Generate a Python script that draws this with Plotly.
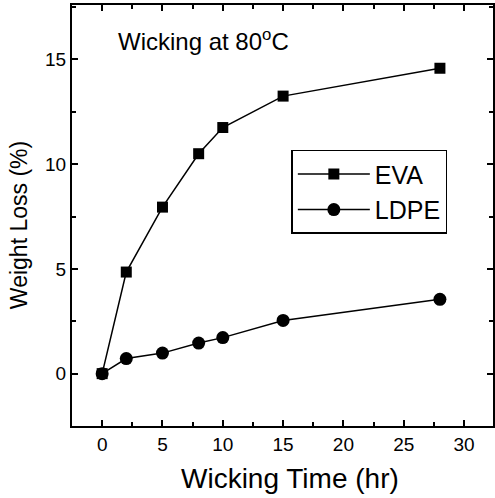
import plotly.graph_objects as go

time_hr = [0, 2, 5, 8, 10, 15, 28]
eva_loss = [0, 4.85, 7.95, 10.5, 11.75, 13.25, 14.58]
ldpe_loss = [0, 0.72, 0.98, 1.46, 1.72, 2.54, 3.55]

x_ticks = [0, 5, 10, 15, 20, 25, 30]
y_ticks = [0, 5, 10, 15]

FONT = "Liberation Sans, Arial, sans-serif"

fig = go.Figure()
fig.add_trace(go.Scatter(
    x=time_hr, y=eva_loss, name="EVA", mode="lines+markers",
    line=dict(color="black", width=1.5),
    marker=dict(symbol="square", size=11, color="black"),
))
fig.add_trace(go.Scatter(
    x=time_hr, y=ldpe_loss, name="LDPE", mode="lines+markers",
    line=dict(color="black", width=1.5),
    marker=dict(symbol="circle", size=13, color="black"),
))

axis_common = dict(
    showline=True, linecolor="black", linewidth=2, mirror="allticks",
    ticks="inside", ticklen=6, tickwidth=1.5, tickcolor="black",
    showgrid=False, zeroline=False, automargin=False,
    tickfont=dict(family=FONT, size=19, color="black"),
)

fig.update_xaxes(
    range=[-2.5, 32.4], tickvals=x_ticks,
    minor=dict(ticks="inside", ticklen=4, tickcolor="black", dtick=2.5, tick0=0),
    **axis_common,
)
fig.update_yaxes(
    range=[-2.5, 17.6], tickvals=y_ticks,
    minor=dict(ticks="inside", ticklen=4, tickcolor="black", dtick=2.5, tick0=0),
    **axis_common,
)

# axis titles placed as annotations for exact positioning
fig.add_annotation(
    text="Wicking Time (hr)", xref="paper", yref="paper",
    x=0.519, y=-0.124, xanchor="center", yanchor="middle", showarrow=False,
    font=dict(family=FONT, size=28, color="black"),
)
fig.add_annotation(
    text="Weight Loss (%)", xref="paper", yref="paper", textangle=-90,
    x=-0.1256, y=0.4774, xanchor="center", yanchor="middle", showarrow=False,
    font=dict(family=FONT, size=23, color="black"),
)

fig.add_annotation(
    text="Wicking at 80<sup>o</sup>C", xref="paper", yref="paper",
    x=0.105, y=0.917, xanchor="left", yanchor="middle", showarrow=False,
    font=dict(family=FONT, size=24, color="black"),
)

fig.update_layout(
    width=495, height=498,
    margin=dict(l=72, r=2, t=5, b=72),
    plot_bgcolor="white", paper_bgcolor="white",
    legend=dict(
        x=0.521, y=0.656, xanchor="left", yanchor="top",
        bordercolor="black", borderwidth=1.5, bgcolor="white",
        font=dict(family=FONT, size=25, color="black"),
        itemwidth=72, tracegroupgap=2,
    ),
)

fig.write_html("out.html", config={"displayModeBar": False},
               post_script="document.body.style.margin='0';")
